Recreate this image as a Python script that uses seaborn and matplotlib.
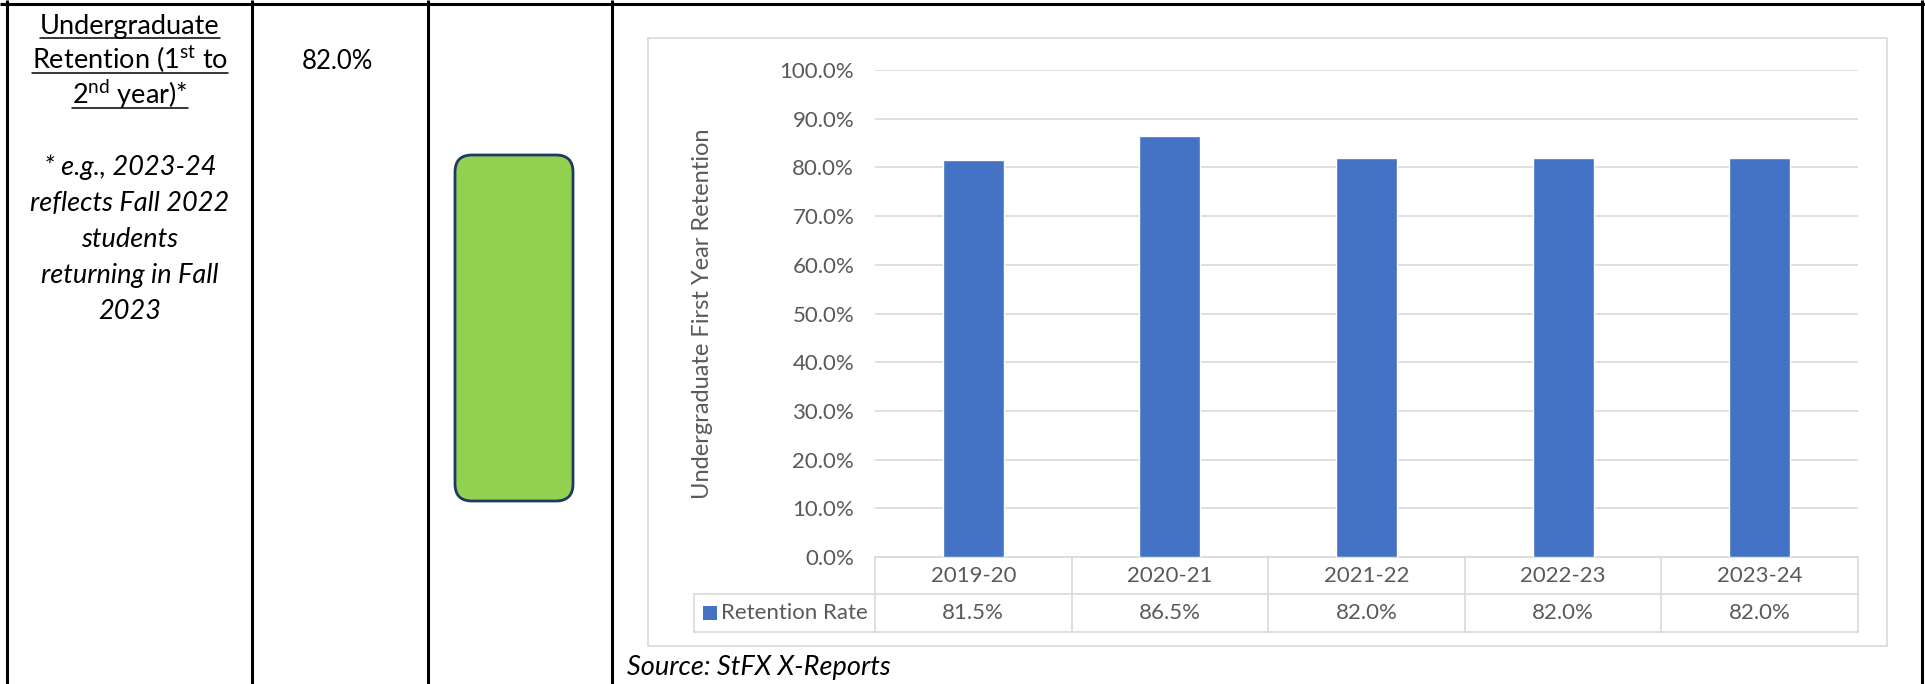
"""
Undergraduate retention row: report table cell layout with an Excel-style
bar chart + data table, rebuilt with seaborn / matplotlib.
"""
import numpy as np
import pandas as pd
import matplotlib.pyplot as plt
import seaborn as sns
from matplotlib.patches import FancyBboxPatch, Rectangle
from matplotlib.lines import Line2D
from matplotlib.ticker import FuncFormatter

# ---- data -----------------------------------------------------------------
years = ["2019-20", "2020-21", "2021-22", "2022-23", "2023-24"]
retention = [0.815, 0.865, 0.820, 0.820, 0.820]
series_name = "Retention Rate"
current_value = "82.0%"
y_ticks = [0.0, 0.1, 0.2, 0.3, 0.4, 0.5, 0.6, 0.7, 0.8, 0.9, 1.0]

title_lines = ["Undergraduate",
               "Retention (1$^{\\mathrm{st}}$ to",
               "2$^{\\mathrm{nd}}$ year)*"]
note_lines = ["* e.g., 2023-24", "reflects Fall 2022", "students",
              "returning in Fall", "2023"]
source_note = "Source: StFX X-Reports"

# ---- style ----------------------------------------------------------------
sns.set_theme(style="white")
plt.rcParams["font.family"] = ["Lato", "DejaVu Sans"]
plt.rcParams["mathtext.fontset"] = "custom"
plt.rcParams["mathtext.rm"] = "Lato"
plt.rcParams["mathtext.it"] = "Lato:italic"

BAR_BLUE = "#4472c4"
GREY_TXT = "#595959"
GREY_LINE = "#d9d9d9"

W, H, DPI = 1925, 684, 100
fig = plt.figure(figsize=(W / DPI, H / DPI), dpi=DPI)
fig.patch.set_facecolor("white")
inch = fig.dpi_scale_trans


def pt(x, y):
    """pixel coords (origin top-left) -> inches for dpi_scale_trans"""
    return x / DPI, (H - y) / DPI


def hline(x0, x1, y, **kw):
    (a, b), (c, _) = pt(x0, y), pt(x1, y)
    fig.add_artist(Line2D([a, c], [b, b], transform=inch, **kw))


def vline(x, y0, y1, **kw):
    (a, b), (_, d) = pt(x, y0), pt(x, y1)
    fig.add_artist(Line2D([a, a], [b, d], transform=inch, **kw))


# ---- outer report table grid ---------------------------------------------
black = dict(color="black", lw=2.2, solid_capstyle="butt")
hline(0, W, 4, **black)
for x in [7, 252, 428, 612, 1922]:
    vline(x, 0, H, **black)

# column 1: metric name (underlined) and footnote
col1_cx = 130
title_base = [34, 69, 104]
title_artists = []
for line, yb in zip(title_lines, title_base):
    t = fig.text(*pt(col1_cx, yb), line, transform=inch, ha="center",
                 va="baseline", fontsize=19.5, color="black")
    title_artists.append((t, yb))

note_base = [175, 211, 247, 283, 319]
for line, yb in zip(note_lines, note_base):
    fig.text(*pt(col1_cx, yb), line, transform=inch, ha="center",
             va="baseline", fontsize=19.5, style="italic", color="black")

# column 2: current value
fig.text(*pt(337, 69), current_value, transform=inch, ha="center",
         va="baseline", fontsize=18.5, color="black")

# column 3: status indicator
x0, y0 = pt(455, 501)
box = FancyBboxPatch((x0, y0), (573 - 455) / DPI, (501 - 155) / DPI,
                     boxstyle="round,pad=0,rounding_size=0.17",
                     transform=inch, facecolor="#92d050",
                     edgecolor="#1f3864", lw=2.0)
fig.add_artist(box)

# ---- chart ----------------------------------------------------------------
bx0, by0 = pt(648, 646)
fig.add_artist(Rectangle((bx0, by0), (1887 - 648) / DPI, (646 - 38) / DPI,
                         transform=inch, facecolor="white",
                         edgecolor=GREY_LINE, lw=1.2, zorder=0))

ax_l, ax_r, ax_t, ax_b = 875, 1858, 70, 557
ax = fig.add_axes([ax_l / W, (H - ax_b) / H, (ax_r - ax_l) / W, (ax_b - ax_t) / H])
df = pd.DataFrame({"year": years, "rate": retention})
sns.barplot(data=df, x="year", y="rate", color=BAR_BLUE, saturation=1,
            width=0.31, ax=ax, zorder=3)
ax.set_facecolor("none")
ax.set_ylim(0, 1)
ax.set_xlim(-0.5, len(years) - 0.5)
ax.set_yticks(y_ticks)
ax.yaxis.set_major_formatter(FuncFormatter(lambda v, _: f"{v:.1%}"))
ax.tick_params(axis="y", length=0, pad=15, labelsize=16, labelcolor=GREY_TXT)
ax.tick_params(axis="x", length=0, labelbottom=False)
ax.yaxis.grid(True, color=GREY_LINE, lw=1.2)
ax.set_axisbelow(True)
for s in ax.spines.values():
    s.set_visible(False)
ax.set_xlabel("")
ax.set_ylabel("Undergraduate First Year Retention", fontsize=17, color=GREY_TXT)
ax.yaxis.set_label_coords((713 - ax_l) / (ax_r - ax_l), 0.5)

# data table under the plot (x in data units, y in axes fraction)
tr = ax.get_xaxis_transform()
ph = ax_b - ax_t
r1, r2 = -37 / ph, -75 / ph
left_x = -0.5 - (ax_l - 694) / ((ax_r - ax_l) / len(years))
grid = dict(color=GREY_LINE, lw=1.2, transform=tr, clip_on=False)
ax.plot([-0.5, len(years) - 0.5], [0, 0], **grid)
ax.plot([left_x, len(years) - 0.5], [r1, r1], **grid)
ax.plot([left_x, len(years) - 0.5], [r2, r2], **grid)
ax.plot([left_x, left_x], [r1, r2], **grid)
for xb in np.arange(-0.5, len(years), 1.0):
    ax.plot([xb, xb], [0, r2], **grid)

for i, (yr, v) in enumerate(zip(years, retention)):
    ax.text(i, r1 / 2, yr, transform=tr, ha="center", va="center",
            fontsize=16, color=GREY_TXT)
    ax.text(i, (r1 + r2) / 2, f"{v:.1%}", transform=tr, ha="center",
            va="center", fontsize=16, color=GREY_TXT)

kx, ky = pt(703, 620)
fig.add_artist(Rectangle((kx, ky), 14 / DPI, 14 / DPI, transform=inch,
                         facecolor=BAR_BLUE, edgecolor="none"))
fig.text(*pt(721, 613), series_name, transform=inch, ha="left", va="center",
         fontsize=16, color=GREY_TXT)

fig.text(*pt(627, 667), source_note, transform=inch, ha="left", va="center",
         fontsize=19.5, style="italic", color="black")

# underline the metric name, Word-style
fig.canvas.draw()
rend = fig.canvas.get_renderer()
for t, yb in title_artists:
    bb = t.get_window_extent(rend)
    hline(bb.x0, bb.x1, yb + 4, color="black", lw=1.1)

fig.savefig("out.png", dpi=DPI)
